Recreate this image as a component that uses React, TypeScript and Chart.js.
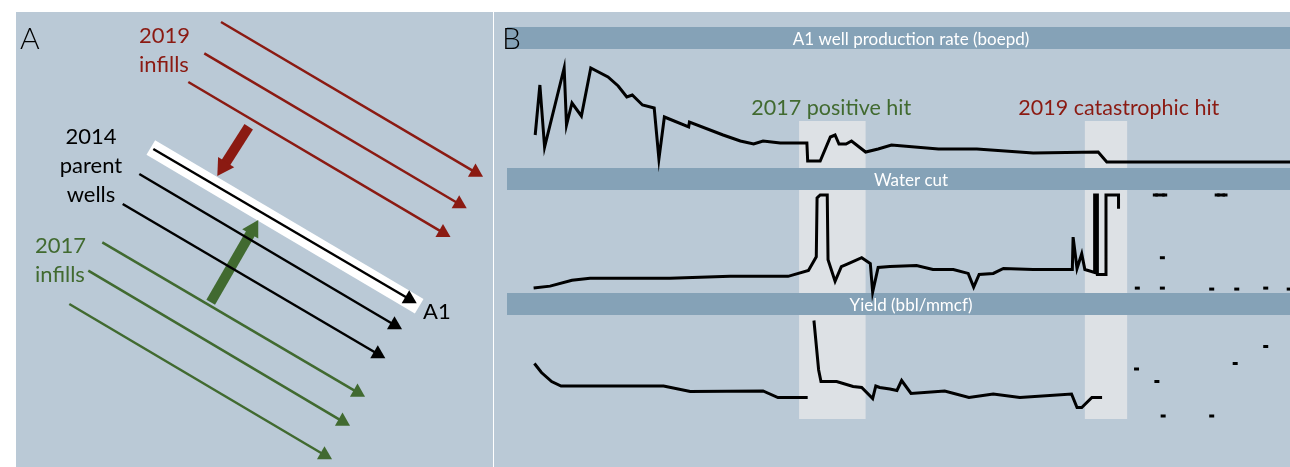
import React, { useEffect, useRef } from "react";
import { Chart, registerables } from "chart.js";

Chart.register(...registerables);

const FONT = "Lato, 'Noto Sans', 'DejaVu Sans', sans-serif";
const PANEL_BG = "#bac9d6";
const BAR_BG = "#85a2b7";
const HILITE = "#dde1e5";
const RED = "#8b1a12";
const GREEN = "#416a30";
const INK = "#000000";

// ---------- Panel A: schematic well map (map units, y grows southward) ----------
// each well: [heelX, heelY, toeX, toeY]
const infills2019 = [
  [205, 10, 459.5, 160.3],
  [188.3, 41.3, 443.2, 192],
  [172.3, 70, 427, 220.7],
];
const parentWells2014 = [
  [137.3, 137, 393.2, 287],
  [123.3, 162, 378.5, 313],
  [106.7, 192, 361.8, 342],
];
const infills2017 = [
  [86.3, 230.3, 341.5, 380.3],
  [72.3, 258.7, 326.5, 409.3],
  [53.3, 292, 308.5, 443],
];
const wellA1Band = [134.8, 135.5, 403.2, 294.2];
const hit2019Vector = [232.7, 114.7, 207.2, 154.7];
const hit2017Vector = [194.7, 290.3, 236.9, 217.3];

const mapLabelText = ["2019", "infills", "2014", "parent", "wells", "2017", "infills", "A1"];
const mapLabelX = [123, 123, 75, 75, 75, 19, 19, 407];
const mapLabelY = [31, 60, 132, 161, 190, 241, 270, 307];
const mapLabelColor = [RED, RED, INK, INK, INK, GREEN, GREEN, INK];
const mapLabelAlign = ["left", "left", "center", "center", "center", "left", "left", "left"];

// ---------- Panel B: A1 well time series (x = months) ----------
const prodMonths = [3.6, 4.2, 4.8, 7.3, 7.6, 8.3, 9.5, 10.7, 12.9, 14.2, 15.3, 16.0, 17.3, 18.8, 19.4, 20.1, 23.2, 23.3, 27.6, 29.8, 31.5, 32.7, 34.9, 38.3, 38.4, 40.0, 41.3, 41.9, 42.4, 43.3, 44.0, 45.8, 47.4, 49.1, 55.1, 60.0, 67.2, 75.5, 76.6, 100];
const prodRate = [330, 830, 210, 1000, 430, 650, 520, 1000, 910, 820, 710, 730, 630, 600, 90, 510, 410, 460, 330, 270, 240, 270, 250, 250, 70, 70, 310, 330, 240, 240, 270, 160, 190, 230, 190, 190, 150, 160, 60, 60];

const wcMonths = [3.4, 5.5, 8.3, 10.6, 20.8, 28.5, 35.9, 38.5, 39.5, 39.6, 40.0, 40.9, 41.0, 41.9, 42.7, 43.6, 45.3, 46.4, 46.7, 47.4, 48.9, 52.3, 54.4, 57.0, 58.9, 59.6, 60.3, 62.1, 63.4, 67.2, 72.2, 72.3, 72.8, 73.4, 73.8, 75.05, 75.05, 75.4, 75.4, 76.5, 76.5, 78.1, 78.1];
const waterCut = [5, 7, 13, 15, 15, 17, 17, 23, 37, 97, 100, 100, 34, 12, 27, 30, 36, 30, 1, 26, 27, 28, 24, 24, 20, 6, 19, 20, 25, 24, 24, 57, 25, 40, 24, 21, 100, 100, 19, 19, 100, 100, 86];
const wcLateMonths = [80.5, 80.5, 82.8, 84.0, 84.0, 83.7, 83.7, 83.7, 83.7, 90.0, 90.0, 90.7, 91.7, 91.7, 93.2, 93.2, 96.9, 96.9, 99.9];
const waterCutLate = [5, null, 100, 100, null, 36, null, 5, null, 4, null, 100, 100, null, 4, null, 5, null, 4];

const yieldMonths = [3.5, 4.4, 5.7, 6.9, 20.0, 23.4, 32.7, 34.6, 38.4, 38.8, 39.2, 39.8, 40.1, 42.1, 44.2, 45.3, 46.7, 47.1, 47.6, 48.9, 49.8, 50.4, 51.6, 55.9, 59.0, 62.1, 65.5, 72.1, 72.8, 73.4, 74.7, 76.0];
const yieldVals = [113, 95, 77, 68, 68, 57, 58, 45, 45, null, 199, 100, 77, 77, 67, 65, 43, 68, 65, 62, 59, 79, 53, 58, 45, 52, 45, 52, 25, 25, 45, 45];
const yieldLateMonths = [80.4, 83.0, 83.8, 90.0, 93.0, 96.9];
const yieldLate = [102, 77, 8, 8, 113, 147];

const hitWindows = [
  [37.3, 45.8],
  [73.8, 79.2],
];
const hitLabels = ["2017 positive hit", "2019 catastrophic hit"];
const hitLabelMonths = [31.2, 65.3];
const hitLabelColors = [GREEN, RED];
const panelTitles = ["A1 well production rate (boepd)", "Water cut", "Yield (bbl/mmcf)"];

const zip = (xs: number[], ys: (number | null)[]) => xs.map((x, i) => ({ x, y: ys[i] }));

function PanelA() {
  const ref = useRef<HTMLCanvasElement>(null);
  useEffect(() => {
    const wellDs = (w: number[], color: string) => ({
      data: [
        { x: w[0], y: w[1] },
        { x: w[2], y: w[3] },
      ],
      borderColor: color,
      borderWidth: 2.5,
      pointStyle: "triangle",
      pointRadius: (c: any) => (c.dataIndex === 1 ? 8.7 : 0),
      pointBackgroundColor: color,
      pointBorderColor: color,
      pointBorderWidth: 0,
      order: 1,
    });
    const arrowDs = (w: number[], color: string, width: number, head: number, rot: number) => ({
      data: [
        { x: w[0], y: w[1] },
        { x: w[2], y: w[3] },
      ],
      borderColor: color,
      borderWidth: width,
      borderCapStyle: "butt",
      pointStyle: "triangle",
      pointRadius: (c: any) => (c.dataIndex === 1 ? head : 0),
      pointRotation: rot,
      pointBackgroundColor: color,
      pointBorderColor: color,
      pointBorderWidth: 0,
      order: 5,
    });
    const labelsPlugin = {
      id: "mapLabels",
      afterDraw(chart: any) {
        const { ctx, scales } = chart;
        ctx.save();
        ctx.textBaseline = "alphabetic";
        ctx.font = `22px ${FONT}`;
        mapLabelText.forEach((t, i) => {
          ctx.fillStyle = mapLabelColor[i];
          ctx.textAlign = mapLabelAlign[i];
          ctx.fillText(t, scales.x.getPixelForValue(mapLabelX[i]), scales.y.getPixelForValue(mapLabelY[i]));
        });
        ctx.fillStyle = INK;
        ctx.textAlign = "left";
        ctx.font = `300 30px ${FONT}`;
        ctx.fillText("A", chart.chartArea.left + 4, chart.chartArea.top + 37);
        ctx.restore();
      },
    };
    const chart = new Chart(ref.current!, {
      type: "line",
      data: {
        datasets: [
          {
            data: [
              { x: wellA1Band[0], y: wellA1Band[1] },
              { x: wellA1Band[2], y: wellA1Band[3] },
            ],
            borderColor: "#ffffff",
            borderWidth: 17,
            borderCapStyle: "butt",
            pointRadius: 0,
            order: 10,
          } as any,
          arrowDs(hit2019Vector, RED, 10, 11, 212.5),
          arrowDs(hit2017Vector, GREEN, 10, 10.7, 30),
          ...infills2019.map((w) => wellDs(w, RED)),
          ...parentWells2014.map((w) => wellDs(w, INK)),
          ...infills2017.map((w) => wellDs(w, GREEN)),
        ],
      },
      options: {
        animation: false,
        responsive: false,
        events: [],
        layout: { padding: 0, autoPadding: false },
        plugins: { legend: { display: false }, tooltip: { enabled: false } },
        elements: { line: { tension: 0 } },
        scales: {
          x: { type: "linear", display: false, min: 0, max: 477 },
          y: { type: "linear", display: false, min: 0, max: 455, reverse: true },
        },
      },
      plugins: [labelsPlugin],
    } as any);
    return () => chart.destroy();
  }, []);
  return (
    <canvas
      ref={ref}
      width={477}
      height={455}
      style={{ position: "absolute", left: 16, top: 12, width: 477, height: 455 }}
    />
  );
}

function PanelB() {
  const ref = useRef<HTMLCanvasElement>(null);
  useEffect(() => {
    const BAR_OFFSETS = [0, 141, 266];
    const BAR_H = 22;
    const decor = {
      id: "panelBDecor",
      beforeDatasetsDraw(chart: any) {
        const { ctx, chartArea: a, scales } = chart;
        const x = scales.x;
        ctx.save();
        ctx.fillStyle = HILITE;
        const top = scales.yProd.getPixelForValue(470);
        const bottom = scales.yYield.getPixelForValue(2);
        hitWindows.forEach(([s, e]) => {
          const l = x.getPixelForValue(s);
          const r = x.getPixelForValue(e);
          ctx.fillRect(l, top, r - l, bottom - top);
        });
        ctx.font = `17px ${FONT}`;
        ctx.textAlign = "center";
        ctx.textBaseline = "alphabetic";
        BAR_OFFSETS.forEach((off, i) => {
          ctx.fillStyle = BAR_BG;
          ctx.fillRect(a.left, a.top + off, a.right - a.left, BAR_H);
          ctx.fillStyle = "#ffffff";
          ctx.fillText(panelTitles[i], x.getPixelForValue(51.6), a.top + off + 17.5);
        });
        ctx.restore();
      },
      afterDraw(chart: any) {
        const { ctx, chartArea: a, scales } = chart;
        ctx.save();
        ctx.textBaseline = "alphabetic";
        ctx.textAlign = "left";
        ctx.font = `21.5px ${FONT}`;
        hitLabels.forEach((t, i) => {
          ctx.fillStyle = hitLabelColors[i];
          ctx.fillText(t, scales.x.getPixelForValue(hitLabelMonths[i]), scales.yProd.getPixelForValue(530));
        });
        ctx.fillStyle = INK;
        ctx.font = `300 30px ${FONT}`;
        ctx.fillText("B", a.left - 5, a.top + 22);
        ctx.restore();
      },
    };
    const lineBase = {
      borderColor: INK,
      borderWidth: 3,
      pointRadius: 0,
      spanGaps: false,
      borderJoinStyle: "miter",
    };
    const dashBase = {
      borderColor: INK,
      borderWidth: 3,
      pointStyle: "line",
      pointRadius: 2.5,
      pointBorderWidth: 3,
      pointBorderColor: INK,
      pointBackgroundColor: INK,
      spanGaps: false,
    };
    const chart = new Chart(ref.current!, {
      type: "line",
      data: {
        datasets: [
          { label: panelTitles[0], data: zip(prodMonths, prodRate), yAxisID: "yProd", ...lineBase },
          { label: panelTitles[1], data: zip(wcMonths, waterCut), yAxisID: "yWc", ...lineBase },
          { label: panelTitles[1] + " (late)", data: zip(wcLateMonths, waterCutLate), yAxisID: "yWc", ...dashBase },
          { label: panelTitles[2], data: zip(yieldMonths, yieldVals), yAxisID: "yYield", ...lineBase },
          { label: panelTitles[2] + " (late)", data: zip(yieldLateMonths, yieldLate), yAxisID: "yYield", showLine: false, ...dashBase },
        ],
      },
      options: {
        animation: false,
        responsive: false,
        events: [],
        layout: { padding: { left: 13, top: 15, right: 0, bottom: 0 }, autoPadding: false },
        plugins: { legend: { display: false }, tooltip: { enabled: false } },
        elements: { line: { tension: 0 } },
        scales: {
          x: { type: "linear", display: false, min: 0, max: 100 },
          yProd: { type: "linear", display: false, min: -2990, max: 1410 },
          yWc: { type: "linear", display: false, min: -177.55, max: 271.43 },
          yYield: { type: "linear", display: false, min: -94, max: 786 },
        },
      },
      plugins: [decor],
    } as any);
    return () => chart.destroy();
  }, []);
  return (
    <canvas
      ref={ref}
      width={796}
      height={455}
      style={{ position: "absolute", left: 494, top: 12, width: 796, height: 455 }}
    />
  );
}

export default function App() {
  return (
    <div
      style={{
        position: "fixed",
        left: 0,
        top: 0,
        width: 1290,
        height: 467,
        background: "#ffffff",
        overflow: "hidden",
      }}
    >
      <div style={{ position: "absolute", left: 16, top: 12, width: 477, height: 455, background: PANEL_BG }} />
      <div style={{ position: "absolute", left: 494, top: 12, width: 796, height: 455, background: PANEL_BG }} />
      <PanelA />
      <PanelB />
    </div>
  );
}
